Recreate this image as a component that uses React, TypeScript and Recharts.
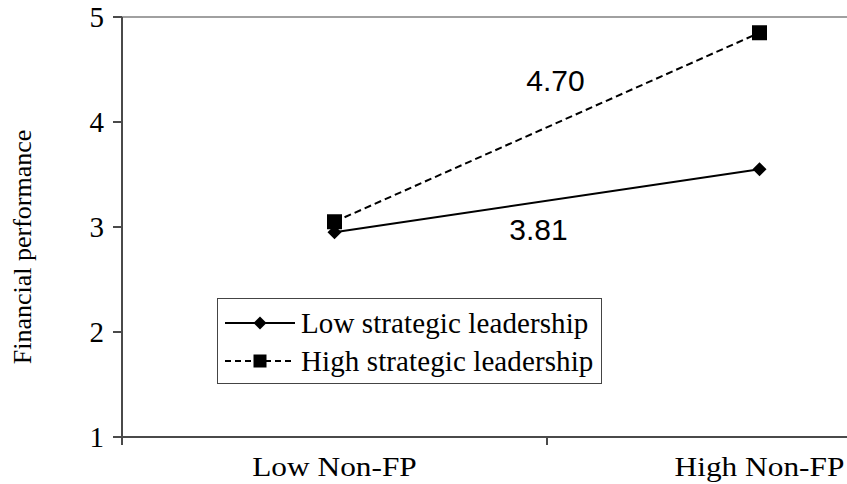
import React from 'react';
import { LineChart, Line, XAxis, YAxis, ReferenceLine, ReferenceDot, Legend } from 'recharts';

const categories = ['Low Non-FP', 'High Non-FP'];
const lowStrategic = [2.95, 3.55];
const highStrategic = [3.05, 4.85];
const yTicks = [1, 2, 3, 4, 5];
const seriesNames = ['Low strategic leadership', 'High strategic leadership'];
const slopeLabels = ['4.70', '3.81'];

const data = categories.map((c, i) => ({ pos: i + 0.5, name: c, low: lowStrategic[i], high: highStrategic[i] }));
const xTicks = [...categories.flatMap((_, i) => [i, i + 0.5]), categories.length];

const SERIF = "'Liberation Serif', 'Times New Roman', serif";
const SANS = "'Liberation Sans', Arial, sans-serif";
const AXIS = '#4a4a4a';

const YTick = (props: any) => {
  const { x, y, payload } = props;
  return (
    <text x={x} y={y} dy="0.35em" textAnchor="end" fontFamily={SERIF} fontSize={29} fill="#000">{payload.value}</text>
  );
};

const XTick = (props: any) => {
  const { x, y, payload } = props;
  const v = payload.value;
  if (Number.isInteger(v)) {
    return <line x1={x} x2={x} y1={y} y2={y + 8} stroke={AXIS} strokeWidth={2} />;
  }
  return (
    <text transform={`translate(${x},${y + 39}) scale(1.12,1)`} x={0} y={0} textAnchor="middle"
      fontFamily={SERIF} fontSize={28} fill="#000">{categories[Math.floor(v)]}</text>
  );
};

const YLabel = (props: any) => {
  const { viewBox } = props;
  const cx = viewBox.x + 22;
  const cy = viewBox.y + viewBox.height / 2 + 20;
  return (
    <text x={cx} y={cy} transform={`rotate(-90, ${cx}, ${cy})`} textAnchor="middle" dominantBaseline="central"
      fontFamily={SERIF} fontSize={26} fill="#000">Financial performance</text>
  );
};

const AnnoLabel = (props: any) => {
  const { viewBox, text } = props;
  const cx = viewBox.x + (viewBox.width || 0) / 2;
  const cy = viewBox.y + (viewBox.height || 0) / 2;
  return (
    <text x={cx} y={cy} dy="0.36em" textAnchor="middle" fontFamily={SANS} fontSize={30} fill="#000">{text}</text>
  );
};

const Diamond = ({ cx, cy, s = 7 }: any) => (
  <path d={`M${cx},${cy - s}L${cx + s},${cy}L${cx},${cy + s}L${cx - s},${cy}Z`} fill="#000" />
);
const Square = ({ cx, cy, s = 7.5 }: any) => (
  <rect x={cx - s} y={cy - s} width={2 * s} height={2 * s} fill="#000" />
);

const LegendBox = () => (
  <div style={{ width: 385, height: 86, boxSizing: 'border-box', border: '1.5px solid #444', background: '#fff', position: 'relative', fontFamily: SERIF }}>
    {seriesNames.map((name, i) => (
      <div key={name} style={{ position: 'absolute', left: 7, top: (i === 0 ? 24 : 62) - 17, height: 34, display: 'flex', alignItems: 'center' }}>
        <svg width={72} height={34} style={{ display: 'block' }}>
          <line x1={0} x2={70} y1={17} y2={17} stroke="#000" strokeWidth={2} strokeDasharray={i === 0 ? undefined : '6 4'} />
          {i === 0 ? <Diamond cx={35} cy={17} s={6.5} /> : <Square cx={35} cy={17} s={6.5} />}
        </svg>
        <span style={{ marginLeft: 4, fontSize: 29, lineHeight: '34px', whiteSpace: 'nowrap', color: '#000', letterSpacing: 0.1 }}>{name}</span>
      </div>
    ))}
  </div>
);

export default function App() {
  return (
    <div style={{ position: 'fixed', left: 0, top: 0, width: 847, height: 484, overflow: 'hidden', background: '#fff' }}>
      <LineChart width={1000} height={484} data={data} margin={{ top: 17, right: 28, bottom: 0, left: 0 }}>
        <ReferenceLine y={5} stroke="#a0a0a0" strokeWidth={2} ifOverflow="extendDomain" />
        <XAxis dataKey="pos" type="number" domain={[0, categories.length]} ticks={xTicks} interval={0}
          height={47} tickSize={0} tickMargin={0} tickLine={false} tick={<XTick />}
          axisLine={{ stroke: AXIS, strokeWidth: 2 }} />
        <YAxis type="number" domain={[1, 5]} ticks={yTicks} interval={0} width={122} tickSize={9} tickMargin={9}
          tick={<YTick />} tickLine={{ stroke: AXIS, strokeWidth: 2 }} axisLine={{ stroke: AXIS, strokeWidth: 2 }}
          label={<YLabel />} />
        <Line dataKey="high" name={seriesNames[1]} stroke="#000" strokeWidth={2} strokeDasharray="7 4"
          isAnimationActive={false} dot={(p: any) => <Square key={`h${p.index}`} cx={p.cx} cy={p.cy} />} />
        <Line dataKey="low" name={seriesNames[0]} stroke="#000" strokeWidth={2}
          isAnimationActive={false} dot={(p: any) => <Diamond key={`l${p.index}`} cx={p.cx} cy={p.cy} />} />
        <ReferenceDot x={1.02} y={4.4} r={0} fill="none" stroke="none" label={<AnnoLabel text={slopeLabels[0]} />} />
        <ReferenceDot x={0.98} y={2.98} r={0} fill="none" stroke="none" label={<AnnoLabel text={slopeLabels[1]} />} />
        <Legend layout="horizontal" verticalAlign="middle" align="center" content={<LegendBox />}
          wrapperStyle={{ position: 'absolute', left: 217, top: 298, width: 385, height: 86 }} />
      </LineChart>
    </div>
  );
}
